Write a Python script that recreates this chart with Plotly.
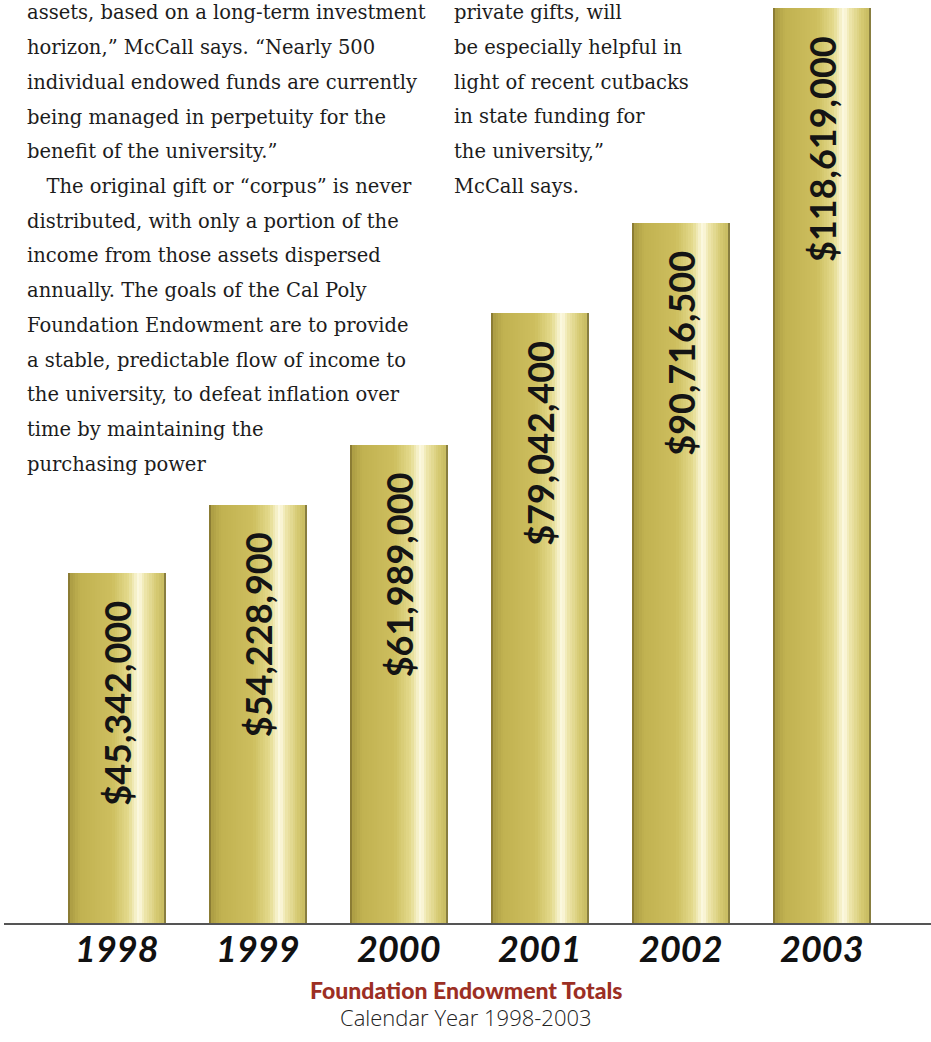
import plotly.graph_objects as go

# ---- data ----
years = ["1998", "1999", "2000", "2001", "2002", "2003"]
totals = [45342000, 54228900, 61989000, 79042400, 90716500, 118619000]

left_column = [
    "assets, based on a long-term investment",
    "horizon,\u201d McCall says. \u201cNearly 500",
    "individual endowed funds are currently",
    "being managed in perpetuity for the",
    "benefit of the university.\u201d",
    "\u2003The original gift or \u201ccorpus\u201d is never",
    "distributed, with only a portion of the",
    "income from those assets dispersed",
    "annually. The goals of the Cal Poly",
    "Foundation Endowment are to provide",
    "a stable, predictable flow of income to",
    "the university, to defeat inflation over",
    "time by maintaining the",
    "purchasing power",
]
right_column = [
    "private gifts, will",
    "be especially helpful in",
    "light of recent cutbacks",
    "in state funding for",
    "the university,\u201d",
    "McCall says.",
]

title = "Foundation Endowment Totals"
subtitle = "Calendar Year 1998-2003"

# ---- layout geometry ----
W, H = 931, 1042
ML, MR, MT, MB = 4, 0, 0, 119
plot_w = W - ML - MR
plot_h = H - MT - MB

xpos = list(range(len(years)))
bar_w = 0.70


def px_x(px):
    return (px - ML) / plot_w


def px_y(py):
    return (plot_h + MT - py) / plot_h


# metallic gold cylinder shading, left to right
shade_stops = [
    (0.00, (115, 100, 40)),
    (0.03, (172, 157, 68)),
    (0.12, (192, 177, 80)),
    (0.45, (205, 191, 95)),
    (0.62, (228, 218, 142)),
    (0.72, (253, 250, 228)),
    (0.78, (238, 230, 172)),
    (0.90, (214, 202, 115)),
    (0.97, (200, 188, 98)),
    (1.00, (90, 82, 40)),
]


def shade(t):
    for (t0, c0), (t1, c1) in zip(shade_stops[:-1], shade_stops[1:]):
        if t0 <= t <= t1:
            f = (t - t0) / (t1 - t0) if t1 > t0 else 0
            r, g, b = (round(a + (bb - a) * f) for a, bb in zip(c0, c1))
            return f"rgb({r},{g},{b})"
    r, g, b = shade_stops[-1][1]
    return f"rgb({r},{g},{b})"


fig = go.Figure()

n_strips = 40
strip_w = bar_w / n_strips
for k in range(n_strips):
    t = (k + 0.5) / n_strips
    fig.add_trace(go.Bar(
        x=xpos,
        y=totals,
        width=strip_w * 1.05,
        offset=-bar_w / 2 + k * strip_w,
        marker=dict(color=shade(t), line=dict(width=0)),
        hoverinfo="skip",
        showlegend=False,
    ))

# value labels running up each bar
for x, v in zip(xpos, totals):
    fig.add_annotation(
        x=x, y=v, xref="x", yref="y",
        text=f"${v:,}",
        textangle=-90,
        xanchor="center", yanchor="top",
        yshift=-26,
        showarrow=False,
        font=dict(family="Lato", size=36, color="#141414", weight="bold"),
    )

# year labels under the baseline
for x, yr in zip(xpos, years):
    fig.add_annotation(
        x=x, y=0, xref="x", yref="paper",
        text=yr, xanchor="center", yanchor="middle",
        yshift=-25, showarrow=False,
        font=dict(family="Lato", size=36, color="#111111",
                  weight="bold", style="italic"),
    )

# article text columns
for i, line in enumerate(left_column):
    fig.add_annotation(
        x=px_x(25), y=px_y(13 + i * 34.7), xref="paper", yref="paper",
        text=line, xanchor="left", yanchor="middle", showarrow=False,
        font=dict(family="DejaVu Serif", size=19.5, color="#1c1c1c"),
    )
for i, line in enumerate(right_column):
    fig.add_annotation(
        x=px_x(452), y=px_y(13 + i * 34.6), xref="paper", yref="paper",
        text=line, xanchor="left", yanchor="middle", showarrow=False,
        font=dict(family="DejaVu Serif", size=19.5, color="#1c1c1c"),
    )

# caption
fig.add_annotation(
    x=px_x(466), y=px_y(990), xref="paper", yref="paper",
    text=title, xanchor="center", yanchor="middle", showarrow=False,
    font=dict(family="Lato", size=23, color="#9c2f24", weight=900),
)
fig.add_annotation(
    x=px_x(466), y=px_y(1017), xref="paper", yref="paper",
    text=subtitle, xanchor="center", yanchor="middle", showarrow=False,
    font=dict(family="Open Sans", size=22, color="#222222", weight=300),
)

y_top = max(totals) * 923 / 915

fig.update_layout(
    width=W, height=H,
    margin=dict(l=ML, r=MR, t=MT, b=MB),
    paper_bgcolor="white", plot_bgcolor="white",
    barmode="overlay", bargap=0,
    xaxis=dict(
        range=[-(117 - ML) / 141, 5 + (931 - 822) / 141],
        showticklabels=False,
        showline=True, linecolor="#555555", linewidth=1.5,
        showgrid=False, zeroline=False, ticks="",
    ),
    yaxis=dict(
        range=[0, y_top], visible=False, showgrid=False, zeroline=False,
    ),
)

fig.write_html("out.html")
